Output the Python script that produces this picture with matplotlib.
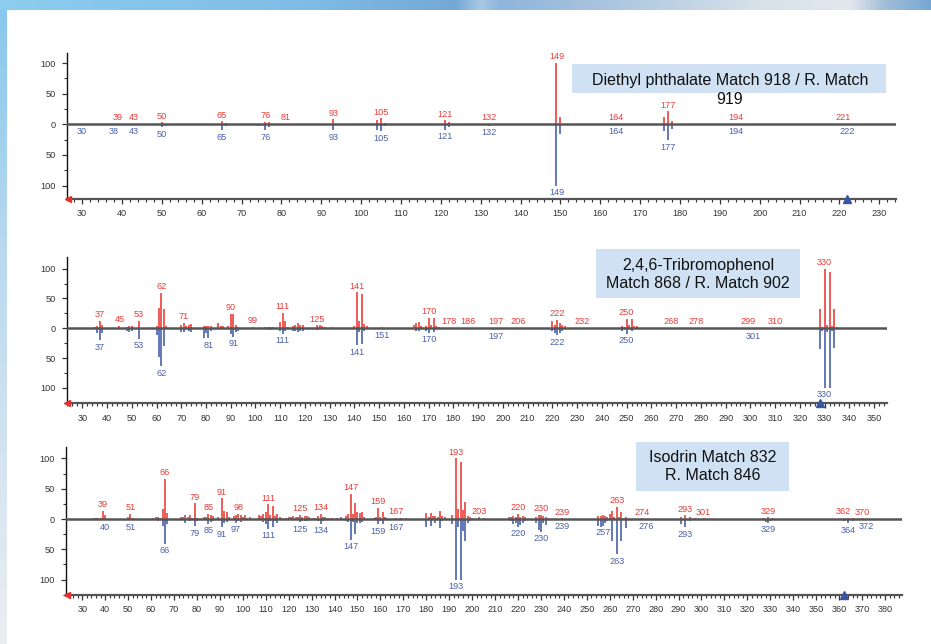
import numpy as np
import matplotlib
matplotlib.use('Agg')
import matplotlib.pyplot as plt
from matplotlib.patches import Rectangle
from matplotlib.colors import to_rgb
from matplotlib.ticker import MultipleLocator, FuncFormatter

plt.rcParams['font.family'] = ['Liberation Sans', 'DejaVu Sans']

# ---- Panel 1: Diethyl phthalate ----
mz1_sample = [39, 41, 43, 50, 51, 63, 65, 66, 74, 75, 76, 77, 81, 92, 93, 104, 105, 106,
              121, 122, 132, 133, 148, 149, 150, 151, 164, 176, 177, 178, 194, 221]
int1_sample = [1, 0.5, 1, 3, 1, 1, 5, 2, 1, 1, 4.5, 3, 1, 1, 8, 6.5, 10, 2.5,
               6.5, 3, 1, 0.5, 1, 100, 12, 1, 1, 12, 21, 5, 1, 1]
mz1_lib = [30, 38, 43, 50, 51, 65, 66, 74, 76, 77, 93, 104, 105, 106, 121, 122, 132,
           149, 150, 164, 176, 177, 178, 194, 222]
int1_lib = [0.5, 1, 1, 5, 2, 10, 3, 2, 10, 4, 10, 9, 11, 3, 9, 4, 2,
            100, 15, 1, 11, 26, 7, 1, 1]
labels1_sample = [39, 43, 50, 65, 76, 81, 93, 105, 121, 132, 149, 164, 177, 194, 221]
labels1_lib = [30, 38, 43, 50, 65, 76, 93, 105, 121, 132, 149, 164, 177, 194, 222]
title1 = ["Diethyl phthalate Match 918 / R. Match", "919"]
marker1 = 222

# ---- Panel 2: 2,4,6-Tribromophenol ----
mz2_sample = [35, 36, 37, 38, 45, 48, 49, 50, 53, 60, 61, 62, 63, 64, 70, 71, 72, 73, 74,
              79, 80, 81, 82, 85, 86, 87, 89, 90, 91, 92, 93, 99, 104, 105, 106, 107,
              110, 111, 112, 113, 115, 116, 117, 118, 119, 125, 126, 127, 128, 131,
              140, 141, 142, 143, 144, 145, 151, 152, 164, 165, 166, 167, 169, 170, 171,
              172, 173, 174, 178, 186, 197, 206, 220, 221, 222, 223, 224, 225, 232,
              248, 249, 250, 251, 252, 253, 254, 268, 278, 299, 310,
              328, 329, 330, 331, 332, 333, 334, 335]
int2_sample = [2, 3, 12, 6, 4, 2, 4, 4, 12, 4, 34, 59, 32, 3, 6, 9, 4, 5, 7,
               3, 4, 3, 3, 8, 3, 3, 3, 24, 24, 5, 2, 2, 2, 2, 2, 2,
               11, 26, 12, 2, 4, 5, 9, 6, 5, 5, 6, 3, 2, 2,
               3, 60, 12, 57, 7, 3, 2, 1, 5, 9, 10, 4, 4, 17, 6,
               17, 3, 2, 1, 1, 1, 1, 12, 6, 14, 8, 5, 3, 1,
               4, 2, 16, 5, 16, 4, 3, 1, 1, 1, 1,
               32, 2, 100, 5, 95, 4, 32, 2]
mz2_lib = [36, 37, 38, 48, 49, 50, 53, 60, 61, 62, 63, 70, 71, 73, 74, 79, 80, 81, 82,
           90, 91, 92, 93, 104, 106, 110, 111, 112, 115, 116, 117, 118, 119, 125,
           141, 142, 143, 144, 151, 165, 166, 169, 170, 172, 197, 220, 221, 222, 223, 224,
           248, 250, 252, 301, 303, 328, 329, 330, 331, 332, 333, 334]
int2_lib = [8, 20, 8, 5, 7, 5, 18, 12, 48, 64, 30, 6, 6, 5, 7, 16, 8, 17, 5,
            10, 14, 6, 4, 2, 3, 5, 9, 5, 5, 4, 6, 5, 4, 3,
            29, 7, 26, 4, 1, 5, 4, 5, 8, 6, 2, 5, 8, 12, 8, 5,
            4, 9, 5, 2, 2, 35, 5, 100, 6, 100, 5, 34]
labels2_sample = [37, 45, 53, 62, 71, 90, 99, 111, 125, 141, 170, 178, 186, 197, 206,
                  222, 232, 250, 268, 278, 299, 310, 330]
labels2_lib = [37, 53, 62, 81, 91, 111, 141, 151, 170, 197, 222, 250, 301, 330]
title2 = ["2,4,6-Tribromophenol", "Match 868 / R. Match 902"]
marker2 = 328

# ---- Panel 3: Isodrin ----
mz3_sample = [35, 36, 37, 38, 39, 40, 50, 51, 52, 61, 62, 63, 64, 65, 66, 67,
              73, 74, 75, 76, 77, 78, 79, 80, 83, 84, 85, 86, 87, 89, 91, 92, 93, 94,
              96, 97, 98, 99, 100, 101, 102, 103, 107, 108, 109, 110, 111, 112, 113, 114,
              115, 116, 117, 119, 120, 121, 122, 123, 124, 125, 126, 127, 128, 129, 131,
              133, 134, 135, 136, 137, 139, 141, 143, 145, 146, 147, 148, 149, 150, 151,
              152, 153, 157, 158, 159, 160, 161, 162, 163, 167, 169, 171,
              180, 181, 182, 183, 184, 185, 186, 187, 188, 191, 193, 194, 195, 196, 197,
              198, 199, 200, 203, 205, 216, 217, 218, 219, 220, 221, 222, 223,
              228, 229, 230, 231, 232, 233, 239, 255, 256, 257, 258, 259, 260, 261, 262,
              263, 264, 265, 266, 267, 274, 291, 293, 295, 297, 301, 327, 329, 331,
              362, 364, 366, 370]
int3_sample = [1, 1, 1, 2, 13, 6, 3, 8, 2, 2, 3, 4, 1, 16, 66, 10,
               3, 3, 6, 4, 7, 2, 26, 2, 4, 4, 9, 6, 5, 3, 34, 13, 12, 4,
               5, 7, 8, 7, 4, 7, 2, 3, 6, 5, 9, 11, 24, 6, 22, 5,
               8, 4, 2, 2, 3, 4, 5, 3, 4, 7, 4, 5, 5, 3, 2,
               5, 8, 4, 3, 2, 2, 2, 4, 5, 8, 42, 8, 27, 11, 10,
               11, 3, 2, 3, 18, 4, 12, 3, 2, 2, 2, 2,
               10, 4, 10, 5, 5, 4, 13, 5, 4, 7, 100, 17, 95, 15, 28,
               5, 3, 2, 3, 1, 3, 4, 5, 3, 8, 4, 5, 3,
               3, 7, 7, 5, 3, 2, 1, 5, 5, 6, 5, 3, 8, 13, 3,
               20, 3, 12, 2, 4, 1, 4, 6, 3, 2, 1, 2, 3, 2,
               2, 2, 2, 1]
mz3_lib = [40, 51, 63, 65, 66, 67, 75, 77, 79, 80, 85, 86, 87, 91, 92, 93, 97, 98, 99,
           109, 110, 111, 112, 113, 114, 115, 125, 126, 127, 128, 133, 134, 135,
           145, 146, 147, 148, 149, 150, 151, 152, 159, 160, 161, 163, 167,
           180, 182, 184, 186, 187, 191, 193, 194, 195, 196, 197, 198, 199, 201, 203,
           217, 218, 219, 220, 221, 222, 223, 228, 229, 230, 231, 232, 239,
           255, 256, 257, 258, 259, 261, 263, 265, 267, 276, 291, 293, 295,
           328, 329, 330, 362, 364, 366, 372]
int3_lib = [2, 2, 3, 12, 41, 8, 6, 4, 12, 3, 8, 5, 3, 14, 7, 5, 6, 4, 5,
            5, 8, 16, 4, 13, 4, 6, 5, 4, 4, 3, 4, 8, 3,
            4, 5, 34, 5, 24, 7, 6, 5, 9, 3, 8, 2, 2,
            13, 12, 6, 15, 4, 9, 100, 14, 100, 20, 37, 7, 3, 2, 2,
            4, 8, 6, 13, 10, 7, 4, 6, 18, 21, 6, 10, 1,
            12, 13, 11, 6, 4, 37, 58, 37, 15, 1, 8, 14, 4,
            5, 6, 3, 3, 7, 4, 1]
labels3_sample = [39, 51, 66, 79, 85, 91, 98, 111, 125, 134, 147, 159, 167, 193, 203,
                  220, 230, 239, 263, 274, 293, 301, 329, 362, 370]
labels3_lib = [40, 51, 66, 79, 85, 91, 97, 111, 125, 134, 147, 159, 167, 193, 220,
               230, 239, 257, 263, 276, 293, 329, 364, 372]
title3 = ["Isodrin Match 832", "R. Match 846"]
marker3 = 362

RED = '#e8302a'
RED_TXT = '#e63d38'
BLUE = '#3b53a4'
BLUE_TXT = '#4b60aa'
AXIS_GREY = '#555555'
BOX = '#cfe1f3'

W, H = 931, 644
fig = plt.figure(figsize=(W / 100, H / 100), dpi=100)

# background frame: blue band on top, fading strip on the left
bg = fig.add_axes([0, 0, 1, 1], zorder=-10)
bg.set_xlim(0, W)
bg.set_ylim(H, 0)
bg.axis('off')
top_stops = [(0, '#8dcdef'), (300, '#80bde6'), (455, '#74a8d5'), (480, '#a9c8e4'),
             (500, '#8fb5db'), (600, '#a8c4de'), (760, '#d8e2eb'), (850, '#e2e7ed'),
             (885, '#9fbdd8'), (931, '#77a7d3')]
xs = np.arange(W)
top = np.zeros((1, W, 3))
for c in range(3):
    top[0, :, c] = np.interp(xs, [p for p, _ in top_stops], [to_rgb(col)[c] for _, col in top_stops])
bg.imshow(top, extent=(0, W, 10, 0), aspect='auto', interpolation='bilinear')
left_stops = [(10, '#88c8ec'), (250, '#b9d9ef'), (644, '#eceef2')]
ys = np.arange(10, H)
left = np.zeros((len(ys), 1, 3))
for c in range(3):
    left[:, 0, c] = np.interp(ys, [p for p, _ in left_stops], [to_rgb(col)[c] for _, col in left_stops])
bg.imshow(left, extent=(0, 7, H, 10), aspect='auto', interpolation='bilinear')


def px_box(x0, y0, x1, y1):
    return [x0 / W, 1 - y1 / H, (x1 - x0) / W, (y1 - y0) / H]


def draw_panel(rect, mz_s, int_s, mz_l, int_l, lab_s, lab_l, xlim, ylim, marker_mz):
    assert len(mz_s) == len(int_s) and len(mz_l) == len(int_l)
    ax = fig.add_axes(rect)
    ax.set_facecolor('none')
    ax.vlines(mz_s, 0, int_s, color=RED, lw=1.1, zorder=2)
    ax.vlines(mz_l, 0, -np.array(int_l), color=BLUE, lw=1.1, zorder=2)
    ax.axhline(0, color=AXIS_GREY, lw=1.8, zorder=3)

    s = dict(zip(mz_s, int_s))
    l = dict(zip(mz_l, int_l))
    for m in lab_s:
        ax.annotate(str(m), (m, s.get(m, 0)), xytext=(0, 1.2), textcoords='offset points',
                    ha='center', va='bottom', color=RED_TXT, fontsize=6.6, zorder=4)
    for m in lab_l:
        ax.annotate(str(m), (m, -l.get(m, 0)), xytext=(0, -1.8), textcoords='offset points',
                    ha='center', va='top', color=BLUE_TXT, fontsize=6.6, zorder=4)

    ax.set_xlim(*xlim)
    ax.set_ylim(*ylim)
    ax.spines['top'].set_visible(False)
    ax.spines['right'].set_visible(False)
    ax.spines['left'].set_color('#111111')
    ax.spines['left'].set_linewidth(1.0)
    ax.spines['bottom'].set_color(AXIS_GREY)
    ax.spines['bottom'].set_linewidth(1.6)

    ax.yaxis.set_major_locator(MultipleLocator(50))
    ax.yaxis.set_minor_locator(MultipleLocator(25))
    ax.yaxis.set_major_formatter(FuncFormatter(lambda v, p: f"{abs(int(round(v)))}"))
    ax.xaxis.set_major_locator(MultipleLocator(10))
    ax.xaxis.set_minor_locator(MultipleLocator(2))
    ax.tick_params(axis='both', which='major', direction='out', length=3.5, width=0.9,
                   labelsize=6.6, labelcolor='#333333', color='#333333')
    ax.tick_params(axis='both', which='minor', direction='out', length=2, width=0.8,
                   color='#333333')
    ax.tick_params(axis='x', pad=4)
    ax.tick_params(axis='y', pad=4.5)

    # scan markers on the m/z axis
    ax.plot([xlim[0] + 0.3], [ylim[0]], marker='<', color='#e8302a', markersize=4.5,
            clip_on=False, zorder=5)
    ax.plot([marker_mz], [ylim[0]], marker='^', color=BLUE, markersize=6,
            clip_on=False, zorder=5)
    return ax


draw_panel(px_box(67, 52.7, 896, 199), mz1_sample, int1_sample, mz1_lib, int1_lib,
           labels1_sample, labels1_lib, (26.2, 234.2), (-122, 117), marker1)
draw_panel(px_box(66.7, 257.3, 886.7, 403.3), mz2_sample, int2_sample, mz2_lib, int2_lib,
           labels2_sample, labels2_lib, (23.7, 355.1), (-126, 119), marker2)
draw_panel(px_box(66, 446.7, 901.7, 595), mz3_sample, int3_sample, mz3_lib, int3_lib,
           labels3_sample, labels3_lib, (22.9, 387.3), (-125.6, 119.5), marker3)

# compound / match boxes, each line placed on its own
for (x0, y0, x1, y1), tx, line_ys, lines in [
        ((571.7, 64, 886, 93.3), 730, (80, 100), title1),
        ((596, 249, 800, 297.7), 698, (265.5, 283), title2),
        ((635.7, 441.7, 789, 490.7), 713, (457.5, 476), title3)]:
    fig.add_artist(Rectangle((x0 / W, 1 - y1 / H), (x1 - x0) / W, (y1 - y0) / H,
                             transform=fig.transFigure, facecolor=BOX, edgecolor='none',
                             zorder=6))
    for ty, line in zip(line_ys, lines):
        fig.text(tx / W, 1 - ty / H, line, ha='center', va='center',
                 fontsize=11.5, color='#111111', zorder=7)

fig.savefig('out.png', dpi=100)
